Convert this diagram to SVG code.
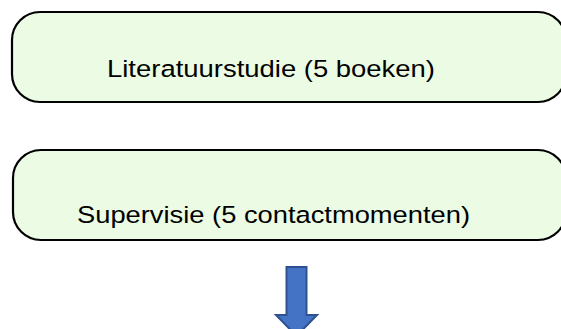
<svg xmlns="http://www.w3.org/2000/svg" width="561" height="329" viewBox="0 0 561 329">
<style>
.box{fill:#ebfbe4;stroke:#000;stroke-width:2.2}
.lbl{font-family:"Liberation Sans",Arial,sans-serif;font-size:24.5px;fill:#000;text-anchor:middle}
.arrow{fill:#4472c4;stroke:#2f528f;stroke-width:2}
</style>
<rect width="561" height="329" fill="#fff"/>
<g id="node1">
<rect class="box" x="12" y="12" width="554" height="90" rx="28" ry="28"/>
<text class="lbl" x="271" y="77" textLength="328" lengthAdjust="spacingAndGlyphs">Literatuurstudie (5 boeken)</text>
</g>
<g id="node2">
<rect class="box" x="13" y="150" width="553" height="90" rx="28" ry="28"/>
<text class="lbl" x="273.5" y="223" textLength="393" lengthAdjust="spacingAndGlyphs">Supervisie (5 contactmomenten)</text>
</g>
<g id="connectors">
<path class="arrow" d="M286.5 267 H306.5 V315 H317 L296.5 336 L276 315 H286.5 Z"/>
</g>
</svg>
